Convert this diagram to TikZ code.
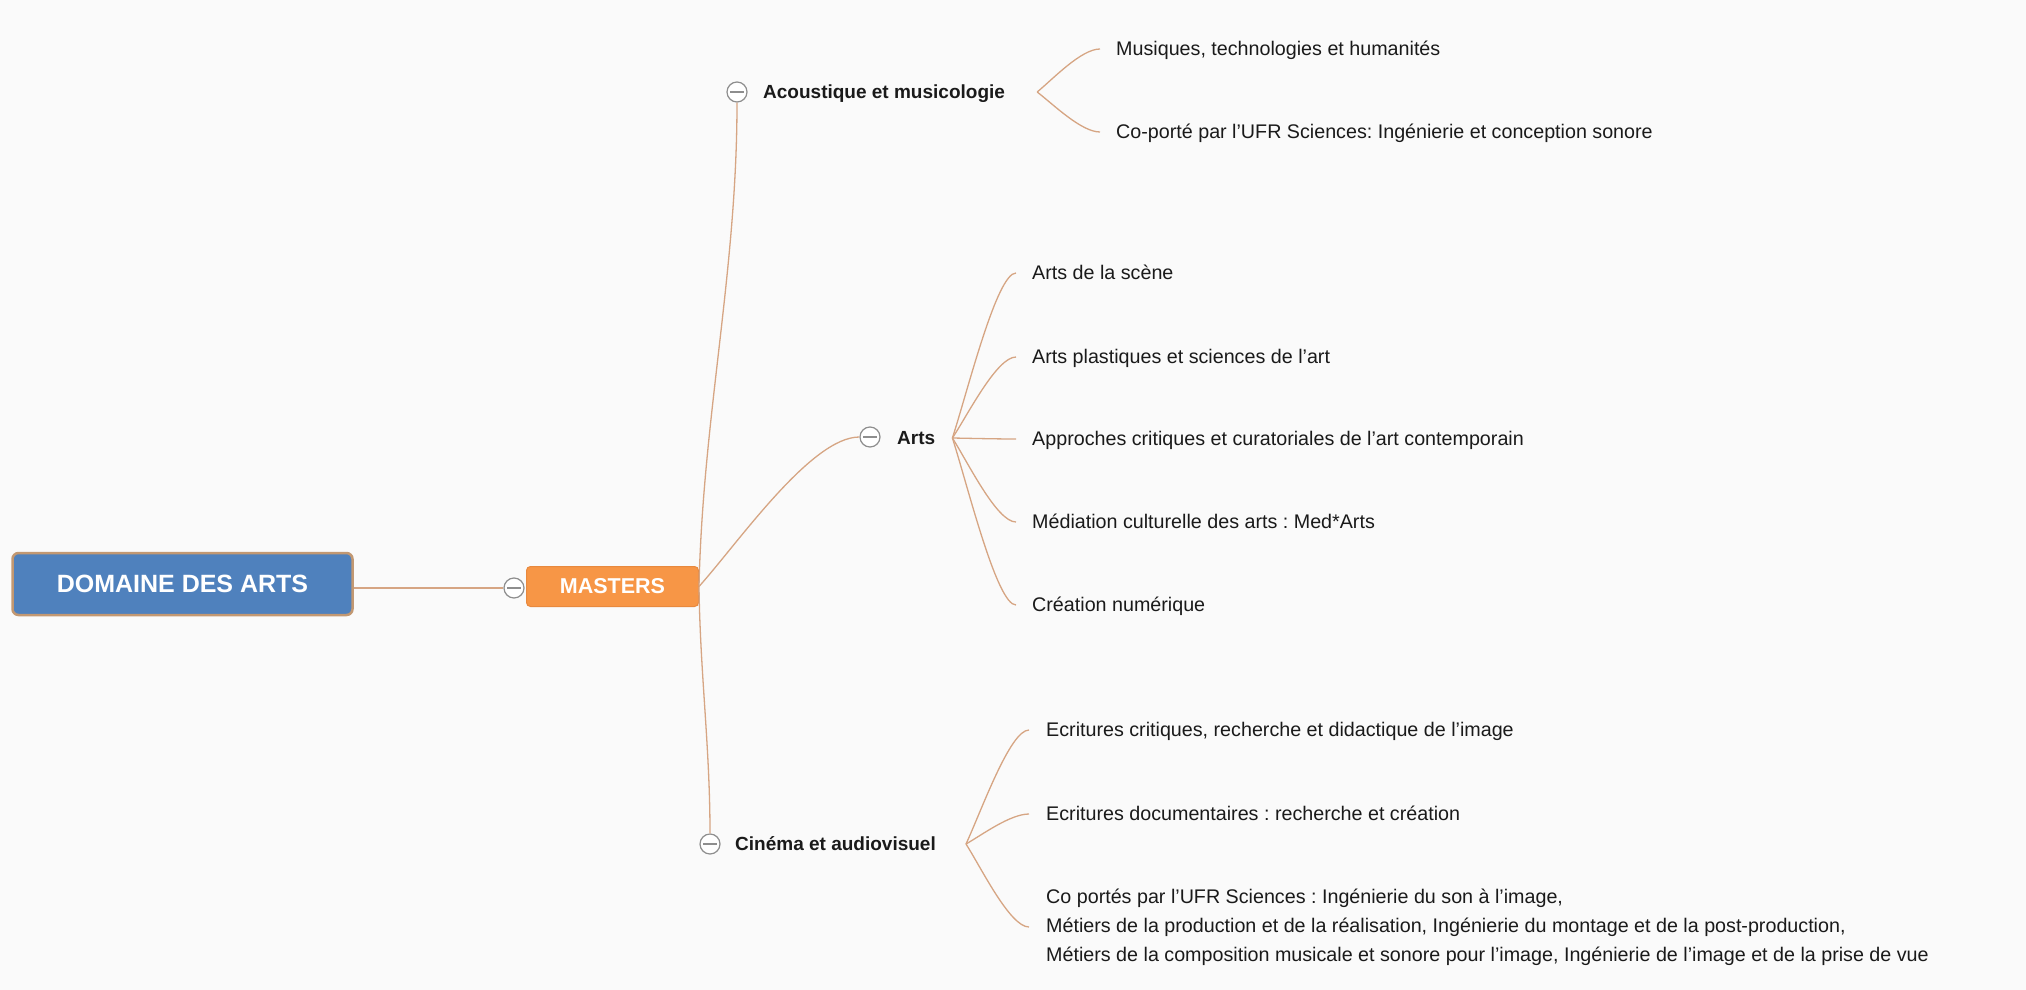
\documentclass[tikz,border=0pt]{standalone}
\usepackage{fontspec}
\setmainfont{Liberation Sans}
\usetikzlibrary{calc}
\frenchspacing
\definecolor{bg}{HTML}{FAFAFA}
\definecolor{linkc}{HTML}{D6A583}
\definecolor{domblue}{HTML}{4F81BD}
\definecolor{domborder}{HTML}{C29872}
\definecolor{mastorange}{HTML}{F79646}
\definecolor{mastborder}{HTML}{E8893E}
\definecolor{knobc}{HTML}{8E8E8E}
\definecolor{txt}{HTML}{1A1A1A}
\tikzset{
  linkline/.style={draw=linkc, line width=1.3pt},
  branch/.style={to path={let \p1=(\tikztostart), \p2=(\tikztotarget) in
      .. controls ({\x1+0.25*(\x2-\x1)},{\y1+0.3*(\y2-\y1)}) and ({\x1+0.7*(\x2-\x1)},\y2) .. (\tikztotarget)}},
  riser/.style={to path={let \p1=(\tikztostart), \p2=(\tikztotarget) in
      .. controls ({\x1+0.1*(\x2-\x1)},{\y1+0.35*(\y2-\y1)}) and (\x2,{\y1+0.65*(\y2-\y1)}) .. (\tikztotarget)}},
  leaf/.style={anchor=west, inner sep=0pt, text height=13.8pt, text depth=0pt,
      font=\fontsize{19.7}{29}\selectfont, text=txt},
  topic/.style={leaf, font=\bfseries\fontsize{19}{23}\selectfont},
  block/.style={anchor=west, inner sep=0pt, align=left,
      font=\fontsize{19.7}{29}\selectfont, text=txt},
  knob/.style={circle, draw=knobc, fill=white, line width=1.2pt, minimum size=20pt, inner sep=0pt,
      path picture={\draw[knobc, line width=1.2pt] ([xshift=3pt]path picture bounding box.west) -- ([xshift=-3pt]path picture bounding box.east);}},
  rootbox/.style={rectangle, rounded corners=6pt, fill=domblue, draw=domborder, line width=2.5pt,
      minimum width=340pt, minimum height=62pt, inner sep=0pt, text=white,
      font=\bfseries\fontsize{25}{30}\selectfont},
  mastbox/.style={rectangle, rounded corners=4pt, fill=mastorange, draw=mastborder, line width=1pt,
      minimum width=172pt, minimum height=40pt, inner sep=0pt, text=white,
      font=\bfseries\fontsize{21.5}{26}\selectfont},
}
\begin{document}
\begin{tikzpicture}[x=1pt,y=-1pt]
\fill[bg] (0,0) rectangle (2026,990);
\useasboundingbox (0,0) rectangle (2026,990);

% root and masters
\node[rootbox] (dom) at (182.5,584) {DOMAINE DES ARTS};
\node[knob] (k0) at (514,588) {};
\node[mastbox] (mas) at (612.5,586.5) {MASTERS};
\draw[linkline] (dom.east |- k0.west) -- (k0.west);

% second level
\node[knob] (ka) at (737,92) {};
\node[topic] (ta) at (763,92) {Acoustique et musicologie};
\node[knob] (kb) at (870,437) {};
\node[topic] (tb) at (897,438) {Arts};
\node[knob] (kc) at (710,844) {};
\node[topic] (tc) at (735,844) {Cinéma et audiovisuel};

\draw[linkline] (mas.east) to[riser] (ka.south);
\draw[linkline] (mas.east) to[branch] (kb.west);
\draw[linkline] (mas.east) to[riser] (kc.north);

% Acoustique leaves
\node[leaf] (a1) at (1116,49) {Musiques, technologies et humanités};
\node[leaf] (a2) at (1116,132) {Co-porté par l'UFR Sciences: Ingénierie et conception sonore};
\draw[linkline] ([xshift=32pt]ta.east) to[branch] ([xshift=-16pt]a1.west);
\draw[linkline] ([xshift=32pt]ta.east) to[branch] ([xshift=-16pt]a2.west);

% Arts leaves
\node[leaf] (b1) at (1032,273) {Arts de la scène};
\node[leaf] (b2) at (1032,357) {Arts plastiques et sciences de l'art};
\node[leaf] (b3) at (1032,439) {Approches critiques et curatoriales de l'art contemporain};
\node[leaf] (b4) at (1032,522) {Médiation culturelle des arts : Med*Arts};
\node[leaf] (b5) at (1032,605) {Création numérique};
\foreach \n in {b1,b2,b3,b4,b5}
  \draw[linkline] ([xshift=17pt]tb.east) to[branch] ([xshift=-16pt]\n.west);

% Cinema leaves
\node[leaf] (c1) at (1046,730) {Ecritures critiques, recherche et didactique de l'image};
\node[leaf] (c2) at (1046,814) {Ecritures documentaires : recherche et création};
\node[block] (c3) at (1046,927) {Co portés par l'UFR Sciences : Ingénierie du son à l'image,\\
Métiers de la production et de la réalisation, Ingénierie du montage et de la post-production,\\
Métiers de la composition musicale et sonore pour l'image, Ingénierie de l'image et de la prise de vue};
\foreach \n in {c1,c2,c3}
  \draw[linkline] ([xshift=30pt]tc.east) to[branch] ([xshift=-17pt]\n.west);
\end{tikzpicture}
\end{document}
